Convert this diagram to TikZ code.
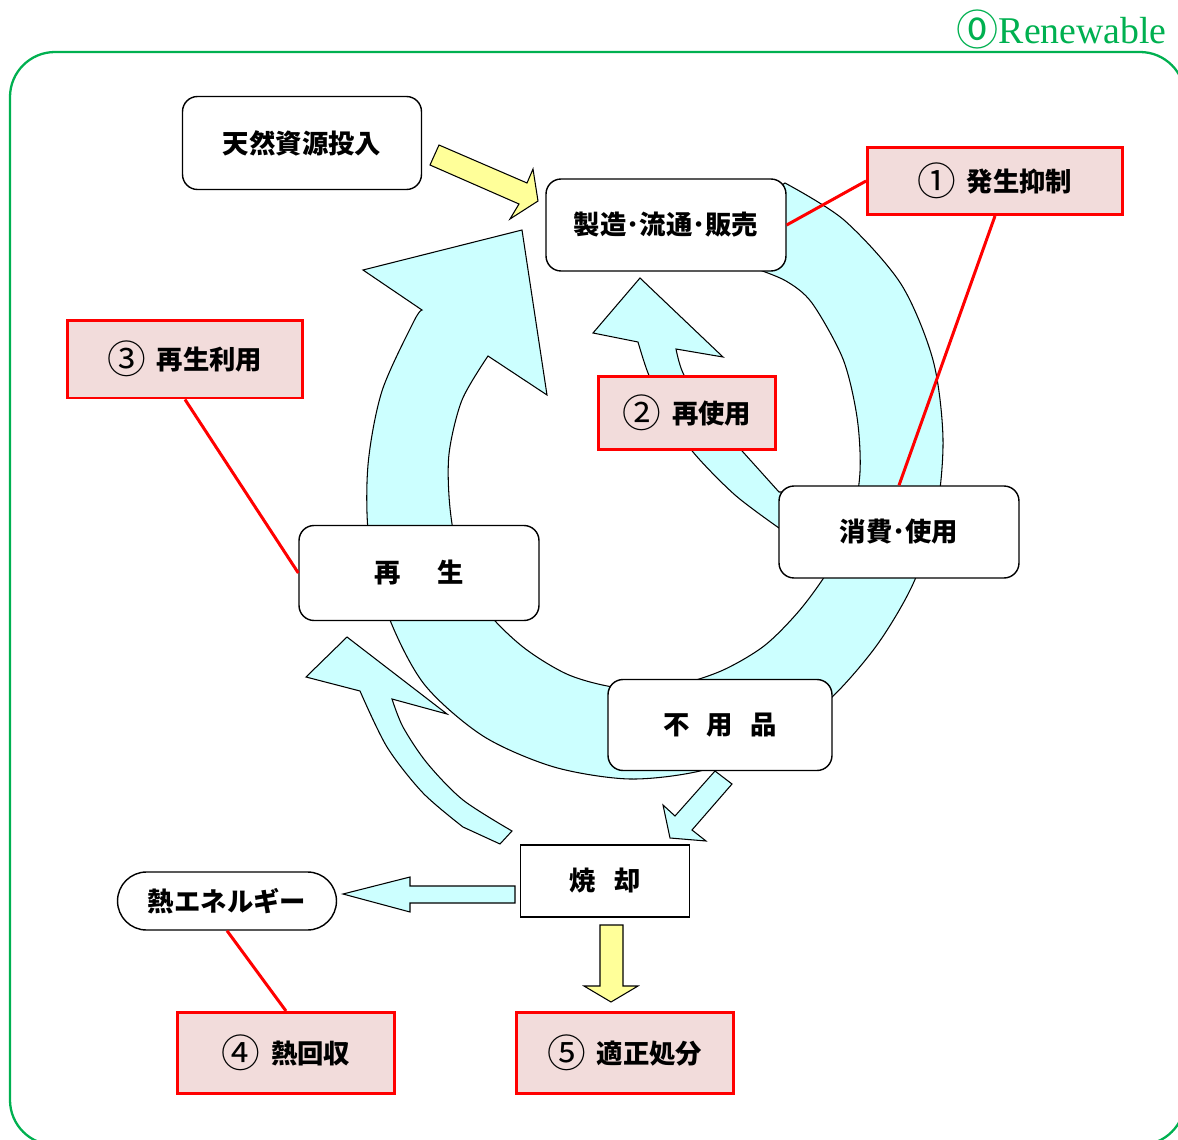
\documentclass[tikz,border=0pt]{standalone}
\usepackage{fontspec}
\setmainfont{Liberation Serif}
\newfontfamily\jpfont{Noto Sans CJK JP}
\usetikzlibrary{positioning}
\definecolor{ringcyan}{HTML}{CCFFFF}
\definecolor{arrowyellow}{HTML}{FFFF99}
\definecolor{keypink}{HTML}{F2DCDB}
\definecolor{framegreen}{HTML}{00B050}
\newcommand\circnum[1]{\raisebox{-2.3pt}{\mdseries\fontsize{22}{22}\selectfont #1}}

\tikzset{
  stagebox/.style={draw=black, line width=0.8pt, fill=white,
    rounded corners=0.3cm, inner sep=0pt,
    font=\jpfont\bfseries\fontsize{15}{18}\selectfont},
  keybox/.style={draw=red, line width=1.7pt, fill=keypink, inner sep=0pt,
    font=\jpfont\bfseries\fontsize{15}{18}\selectfont},
  keyline/.style={draw=red, line width=1.7pt},
  blockarrow/.style={draw=black, line width=0.6pt, fill=ringcyan},
  yellowarrow/.style={draw=black, line width=0.6pt, fill=arrowyellow}
}

\begin{document}
\begin{tikzpicture}[x=0.02cm, y=-0.02cm]
    \useasboundingbox (0,0) rectangle (1178,1140);
    % frame and title
    \begin{scope}
        \clip (0,0) rectangle (1178,1140);
        \draw[framegreen, line width=1.3pt, rounded corners=0.9cm]
            (10,52) rectangle (1185,1145);
    \end{scope}
    \node[anchor=base east,
          inner sep=0pt,
          text=framegreen,
          font=\fontsize{21.5}{24}\selectfont
          ] (title) at (1167,43)
          {\raisebox{-1.6pt}{\jpfont\fontsize{24}{24}\selectfont ⓪}Renewable};

    % the big cycle arrow
    \filldraw[blockarrow]
        (775,190) -- plot[smooth] coordinates {(785,183) (844,220)
            (901,284) (933,360) (943,439) (936,515) (913,584) (877,645)
            (830,699) (772,742) (704,770) (630,779) (554,767) (483,736)
            (424,684) (388,615) (369,540) (368,465) (382,391) (414,321)
            (422,310)}
        -- (363,270) -- (522,230) -- (547,395)
        -- plot[smooth] coordinates {(488,356) (462,400) (449,454) (450,508)
            (460,561) (485,609) (523,647) (569,675) (620,688) (672,686)
            (721,671) (764,646) (799,611) (828,571) (851,525) (860,472)
            (857,417) (843,359) (812,303) (786,281) (754,268)}
        -- (740,255) -- cycle;
    % reuse arrow
    \filldraw[blockarrow]
        (790,492) -- plot[smooth] coordinates {(779,492) (743,452) (705,410)
            (683,373) (676,349)}
        -- (723,357) -- (640,278) -- (593,333)
        -- plot[smooth] coordinates {(638,342) (648,373) (665,410) (693,452)
            (735,495) (779,528)}
        -- (790,528) -- cycle;
    % recycling arrow
    \filldraw[blockarrow]
        (512,831) -- (500,844)
        -- plot[smooth] coordinates {(463,827) (423,793) (387,747) (360,691)}
        -- (306,677) -- (347,637) -- (447,714)
        -- plot[smooth] coordinates {(392,699) (403,727) (427,763) (463,800)
            (512,831)}
        -- cycle;
    % straight arrows
    \filldraw[blockarrow] (715,771) -- (732,784) -- (692,830) -- (706,841)
        -- (670,838) -- (663,805) -- (675,816) -- cycle;
    \filldraw[blockarrow] (515,886) -- (410,886) -- (410,877) -- (343,894)
        -- (410,912) -- (410,903) -- (515,903) -- cycle;
    \filldraw[yellowarrow] (439,145) -- (527,183) -- (533,169) -- (538,201)
        -- (510,219) -- (519,204) -- (430,165) -- cycle;
    \filldraw[yellowarrow] (600,925) -- (623,925) -- (623,986) -- (638,986)
        -- (611,1002) -- (584,986) -- (600,986) -- cycle;

    % the stages
    \node[stagebox,
          minimum width=4.78cm,
          minimum height=1.86cm
          ] (input) at (302,143) {天然資源投入};
    \node[stagebox,
          minimum width=4.8cm,
          minimum height=1.84cm
          ] (make) at (666,225) {製造･流通･販売};
    \node[stagebox,
          minimum width=4.8cm,
          minimum height=1.84cm
          ] (use) at (899,532) {消費･使用};
    \node[stagebox,
          minimum width=4.48cm,
          minimum height=1.82cm
          ] (waste) at (720,725) {不\hspace{0.65em}用\hspace{0.65em}品};
    \node[stagebox,
          minimum width=4.8cm,
          minimum height=1.9cm
          ] (regen) at (419,573) {再\hspace{1.4em}生};
    \node[stagebox,
          rounded corners=0pt,
          minimum width=3.38cm,
          minimum height=1.44cm
          ] (burn) at (605,881) {焼\hspace{0.7em}却};
    \node[stagebox,
          rounded corners=0.58cm,
          minimum width=4.38cm,
          minimum height=1.16cm
          ] (heat) at (227,901) {熱エネルギー};

    % the key measures
    \node[keybox,
          minimum width=5.1cm,
          minimum height=1.34cm
          ] (k1) at (995,181) {\circnum{①}\hspace{0.4em}発生抑制};
    \node[keybox,
          minimum width=3.54cm,
          minimum height=1.46cm
          ] (k2) at (687,413) {\circnum{②}\hspace{0.4em}再使用};
    \node[keybox,
          minimum width=4.7cm,
          minimum height=1.56cm
          ] (k3) at (185,359) {\circnum{③}\hspace{0.4em}再生利用};
    \node[keybox,
          minimum width=4.36cm,
          minimum height=1.62cm
          ] (k4) at (286,1053) {\circnum{④}\hspace{0.4em}熱回収};
    \node[keybox,
          minimum width=4.36cm,
          minimum height=1.62cm
          ] (k5) at (625,1053) {\circnum{⑤}\hspace{0.4em}適正処分};

    \draw[keyline]
        (make.east) edge (k1.west)
        (k1.south) edge (use.north)
        (k3.south) edge (regen.west)
        (heat.south) edge (k4.north);
\end{tikzpicture}
\end{document}
